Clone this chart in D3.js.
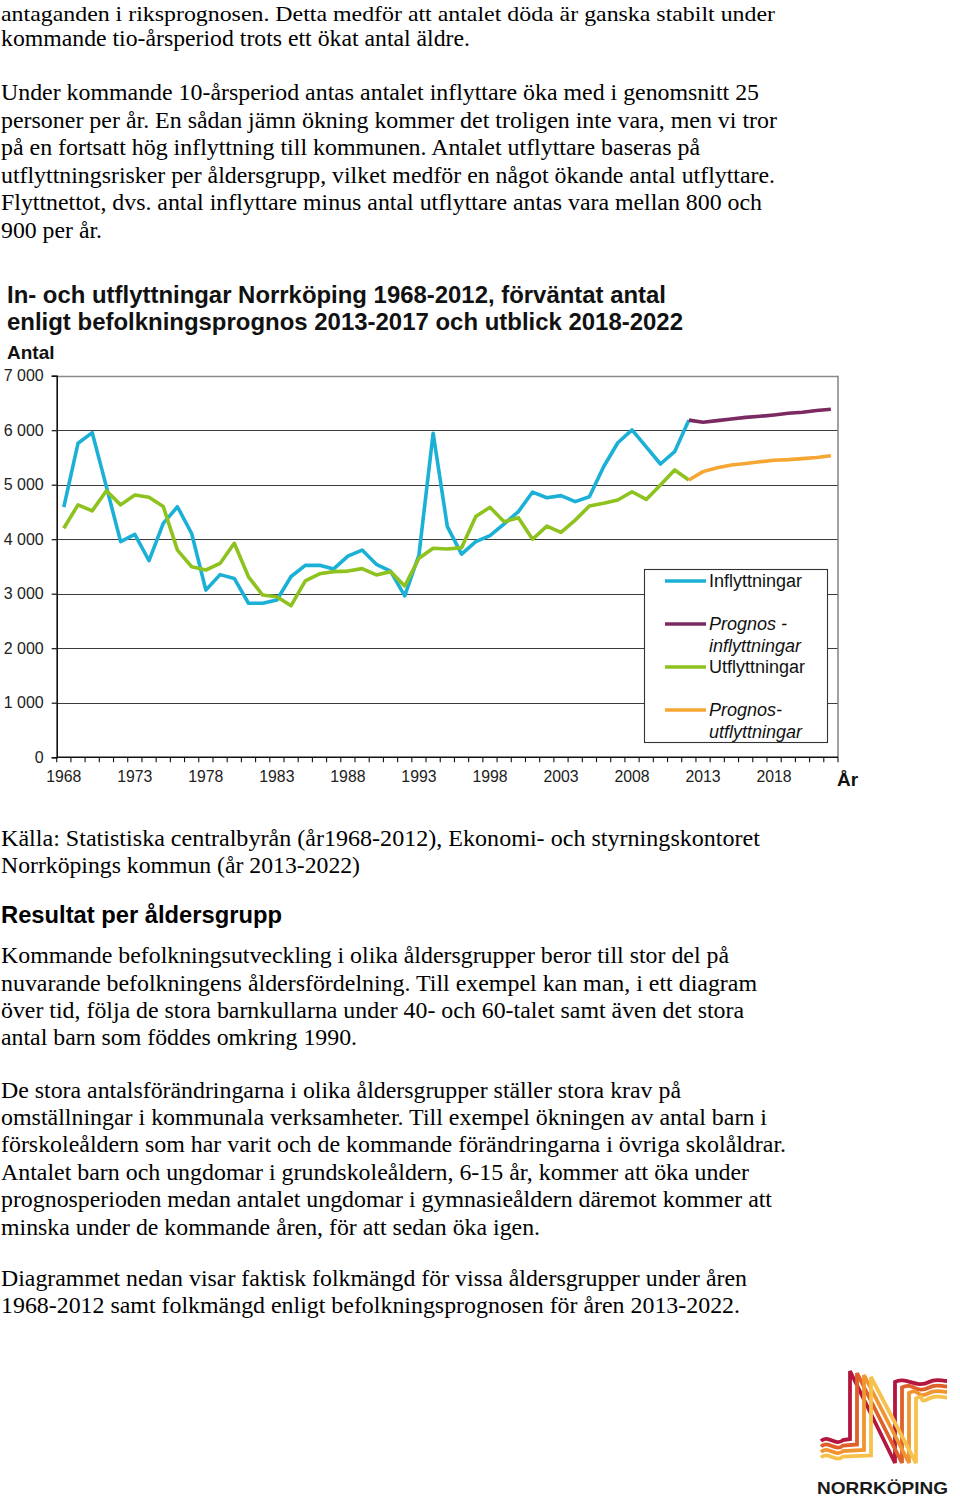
<!DOCTYPE html>
<html><head><meta charset="utf-8">
<script src="https://cdn.jsdelivr.net/npm/d3@7"></script>
<style>body{margin:0;background:#fff}svg{display:block}</style>
</head><body><svg id="c" width="960" height="1501"></svg>
<script>
// ---- chart data ----
const years = [1968,1969,1970,1971,1972,1973,1974,1975,1976,1977,1978,1979,1980,1981,1982,1983,1984,1985,1986,1987,
  1988,1989,1990,1991,1992,1993,1994,1995,1996,1997,1998,1999,2000,2001,2002,2003,2004,2005,2006,2007,
  2008,2009,2010,2011,2012,2013,2014,2015,2016,2017,2018,2019,2020,2021,2022];
const histYears = years.slice(0, 45);            // 1968-2012
const progYears = years.slice(44);               // 2012-2022
const inflyttningar = [4590,5760,5955,4960,3955,4090,3605,4290,4595,4105,3065,3350,3280,2825,2825,2885,3315,3520,3520,3455,
  3690,3800,3540,3415,2960,3710,5945,4230,3725,3955,4065,4280,4505,4865,4760,4800,4690,4780,5330,5770,
  6005,5695,5380,5605,6185];
const utflyttningar = [4200,4630,4520,4890,4630,4810,4770,4600,3800,3495,3435,3555,3925,3310,2975,2945,2780,3235,3365,3405,
  3415,3460,3345,3405,3140,3650,3835,3820,3845,4415,4585,4320,4395,4000,4240,4125,4350,4610,4660,4720,
  4870,4730,4995,5270,5085];
const prognosIn = [6185,6145,6175,6205,6235,6255,6280,6310,6330,6360,6385];
const prognosUt = [5085,5240,5310,5360,5390,5420,5450,5460,5478,5500,5530];
const xTickLabels = [1968,1973,1978,1983,1988,1993,1998,2003,2008,2013,2018];
const yTicks = [0,1000,2000,3000,4000,5000,6000,7000];
const seriesNames = ["Inflyttningar", "Prognos - inflyttningar", "Utflyttningar", "Prognos- utflyttningar"];

// ---- text ----
const textTop = [
  ["antaganden i riksprognosen. Detta medför att antalet döda är ganska stabilt under", 21, 775, 22],
  ["kommande tio-årsperiod trots ett ökat antal äldre.", 46, 470],
  ["Under kommande 10-årsperiod antas antalet inflyttare öka med i genomsnitt 25", 100, 759],
  ["personer per år. En sådan jämn ökning kommer det troligen inte vara, men vi tror", 128, 777],
  ["på en fortsatt hög inflyttning till kommunen. Antalet utflyttare baseras på", 155, 700],
  ["utflyttningsrisker per åldersgrupp, vilket medför en något ökande antal utflyttare.", 183, 775],
  ["Flyttnettot, dvs. antal inflyttare minus antal utflyttare antas vara mellan 800 och", 210, 762],
  ["900 per år.", 238, 102],
  ["Källa: Statistiska centralbyrån (år1968-2012), Ekonomi- och styrningskontoret", 846, 760],
  ["Norrköpings kommun (år 2013-2022)", 873, 360],
  ["Kommande befolkningsutveckling i olika åldersgrupper beror till stor del på", 963, 729],
  ["nuvarande befolkningens åldersfördelning. Till exempel kan man, i ett diagram", 991, 757],
  ["över tid, följa de stora barnkullarna under 40- och 60-talet samt även det stora", 1018, 744],
  ["antal barn som föddes omkring 1990.", 1045, 357],
  ["De stora antalsförändringarna i olika åldersgrupper ställer stora krav på", 1098, 681],
  ["omställningar i kommunala verksamheter. Till exempel ökningen av antal barn i", 1125, 767],
  ["förskoleåldern som har varit och de kommande förändringarna i övriga skolåldrar.", 1152, 786],
  ["Antalet barn och ungdomar i grundskoleåldern, 6-15 år, kommer att öka under", 1180, 749],
  ["prognosperioden medan antalet ungdomar i gymnasieåldern däremot kommer att", 1207, 772],
  ["minska under de kommande åren, för att sedan öka igen.", 1235, 540],
  ["Diagrammet nedan visar faktisk folkmängd för vissa åldersgrupper under åren", 1286, 747],
  ["1968-2012 samt folkmängd enligt befolkningsprognosen för åren 2013-2022.", 1313, 740]
];

const svg = d3.select("#c");
const serif = "'Liberation Serif','Times New Roman',serif";
const sans = "'Liberation Sans',Arial,sans-serif";

svg.append("g").selectAll("text").data(textTop).join("text")
  .attr("x", 1).attr("y", d => d[1]).attr("textLength", d => d[2] - 1).attr("lengthAdjust", "spacingAndGlyphs")
  .attr("font-family", serif).attr("font-size", d => d[3] || 24).attr("fill", "#000").text(d => d[0]);

svg.append("text").attr("x", 1).attr("y", 923).attr("textLength", 281).attr("lengthAdjust", "spacingAndGlyphs")
  .attr("font-family", sans).attr("font-weight", "bold").attr("font-size", 23).text("Resultat per åldersgrupp");

// ---- chart ----
const x = d3.scaleBand().domain(years).range([56.7, 838]).padding(0);
const y = d3.scaleLinear().domain([0, 7000]).range([757.2, 375.7]);
const cx = d => x(d) + x.bandwidth() / 2;

const ch = svg.append("g");
ch.append("text").attr("x", 7).attr("y", 303).attr("textLength", 659).attr("lengthAdjust", "spacingAndGlyphs")
  .attr("font-family", sans).attr("font-weight", "bold").attr("font-size", 24).attr("fill", "#111")
  .text("In- och utflyttningar Norrköping 1968-2012, förväntat antal");
ch.append("text").attr("x", 7).attr("y", 330).attr("textLength", 676).attr("lengthAdjust", "spacingAndGlyphs")
  .attr("font-family", sans).attr("font-weight", "bold").attr("font-size", 24).attr("fill", "#111")
  .text("enligt befolkningsprognos 2013-2017 och utblick 2018-2022");
ch.append("text").attr("x", 7).attr("y", 359).attr("font-family", sans).attr("font-weight", "bold")
  .attr("font-size", 19).attr("fill", "#111").text("Antal");
ch.append("text").attr("x", 837).attr("y", 786).attr("font-family", sans).attr("font-weight", "bold")
  .attr("font-size", 19).attr("fill", "#111").text("År");

// gridlines
ch.append("g").selectAll("line").data(yTicks.filter(v => v > 0)).join("line")
  .attr("x1", x.range()[0]).attr("x2", x.range()[1])
  .attr("y1", d => Math.round(y(d)) + 0.5).attr("y2", d => Math.round(y(d)) + 0.5)
  .attr("stroke", d => d === 7000 ? "#8a8a8a" : "#3c3c3c").attr("stroke-width", d => d === 7000 ? 1.6 : 1.1);
// right border
ch.append("line").attr("x1", 838).attr("x2", 838).attr("y1", y(7000)).attr("y2", y(0))
  .attr("stroke", "#8a8a8a").attr("stroke-width", 1.6);

// y axis
const yAxis = ch.append("g").attr("transform", `translate(${x.range()[0]},0)`)
  .call(d3.axisLeft(y).tickValues(yTicks).tickSize(5).tickPadding(8)
    .tickFormat(d => d3.format(",")(d).replace(",", " ")));
yAxis.select(".domain").attr("stroke", "#111").attr("stroke-width", 1.6);
yAxis.selectAll(".tick line").attr("stroke", "#111").attr("stroke-width", 1.2);
yAxis.selectAll("text").attr("font-family", sans).attr("font-size", 16).attr("fill", "#222");

// x axis
const xAxis = ch.append("g").attr("transform", `translate(0,${y(0)})`);
xAxis.append("line").attr("x1", x.range()[0]).attr("x2", x.range()[1]).attr("stroke", "#111").attr("stroke-width", 1.6);
xAxis.selectAll("line.tk").data(years.concat(["end"])).join("line").attr("class", "tk")
  .attr("x1", d => d === "end" ? x.range()[1] : x(d)).attr("x2", d => d === "end" ? x.range()[1] : x(d))
  .attr("y1", 0).attr("y2", 5).attr("stroke", "#111").attr("stroke-width", 1.1);
xAxis.selectAll("text").data(xTickLabels).join("text")
  .attr("x", d => cx(d)).attr("y", 25).attr("text-anchor", "middle")
  .attr("font-family", sans).attr("font-size", 15.8).attr("fill", "#222").text(d => d);

// lines
const line = d3.line().x(d => cx(d[0])).y(d => y(d[1]));
const series = [
  {key: seriesNames[0], yrs: histYears, vals: inflyttningar, color: "#1bb0d6"},
  {key: seriesNames[2], yrs: histYears, vals: utflyttningar, color: "#8dc21f"},
  {key: seriesNames[1], yrs: progYears, vals: prognosIn, color: "#7a2a60"},
  {key: seriesNames[3], yrs: progYears, vals: prognosUt, color: "#f6a733"}
];
ch.append("g").selectAll("path").data(series).join("path")
  .attr("d", s => line(s.yrs.map((yr, i) => [yr, s.vals[i]])))
  .attr("fill", "none").attr("stroke", s => s.color).attr("stroke-width", 3.6)
  .attr("stroke-linejoin", "round").attr("stroke-linecap", "butt");

// legend
const lg = ch.append("g");
lg.append("rect").attr("x", 644.5).attr("y", 569.5).attr("width", 183).attr("height", 173)
  .attr("fill", "#fff").attr("stroke", "#333").attr("stroke-width", 1.1);
const legendItems = [
  {color: "#1bb0d6", ly: 581, lines: ["Inflyttningar"], italic: false},
  {color: "#7a2a60", ly: 624, lines: ["Prognos -", "inflyttningar"], italic: true},
  {color: "#8dc21f", ly: 667, lines: ["Utflyttningar"], italic: false},
  {color: "#f6a733", ly: 710, lines: ["Prognos-", "utflyttningar"], italic: true}
];
legendItems.forEach(it => {
  lg.append("line").attr("x1", 665).attr("x2", 706).attr("y1", it.ly).attr("y2", it.ly)
    .attr("stroke", it.color).attr("stroke-width", 3.6);
  it.lines.forEach((t, j) => {
    lg.append("text").attr("x", 709).attr("y", it.ly + 6 + j * 21.5)
      .attr("font-family", sans).attr("font-size", 18).attr("fill", "#111")
      .attr("font-style", it.italic ? "italic" : "normal").text(t);
  });
});

// ---- logo ----
const logo = svg.append("g");
const logoColors = ["#b3173f", "#e0602a", "#f0952f", "#f6c24c"];
logoColors.forEach((c, k) => {
  const dx = 7 * k, dy = 5.5 * k;
  const p = d3.path();
  p.moveTo(821, 1441 + dy);
  p.bezierCurveTo(828, 1434 + dy, 836, 1447 + dy, 843, 1440 + dy);
  p.lineTo(850 + dx, 1439 + dy);
  p.lineTo(850 + dx, 1371 + 2 * k);
  p.lineTo(895 + dx, 1463);
  p.lineTo(895 + dx, 1382 + dy);
  p.bezierCurveTo(906 + dx, 1376 + dy, 916, 1389 + dy, 929, 1382 + dy);
  p.bezierCurveTo(936, 1378 + dy, 941, 1381 + dy, 947, 1381 + dy);
  logo.append("path").attr("d", p.toString()).attr("fill", "none").attr("stroke", c)
    .attr("stroke-width", 3.8).attr("stroke-linejoin", "miter");
});
logo.append("text").attr("x", 817).attr("y", 1494).attr("textLength", 131).attr("lengthAdjust", "spacingAndGlyphs")
  .attr("font-family", sans).attr("font-weight", "bold").attr("font-size", 17).attr("fill", "#1a1a1a").text("NORRKÖPING");
</script></body></html>
